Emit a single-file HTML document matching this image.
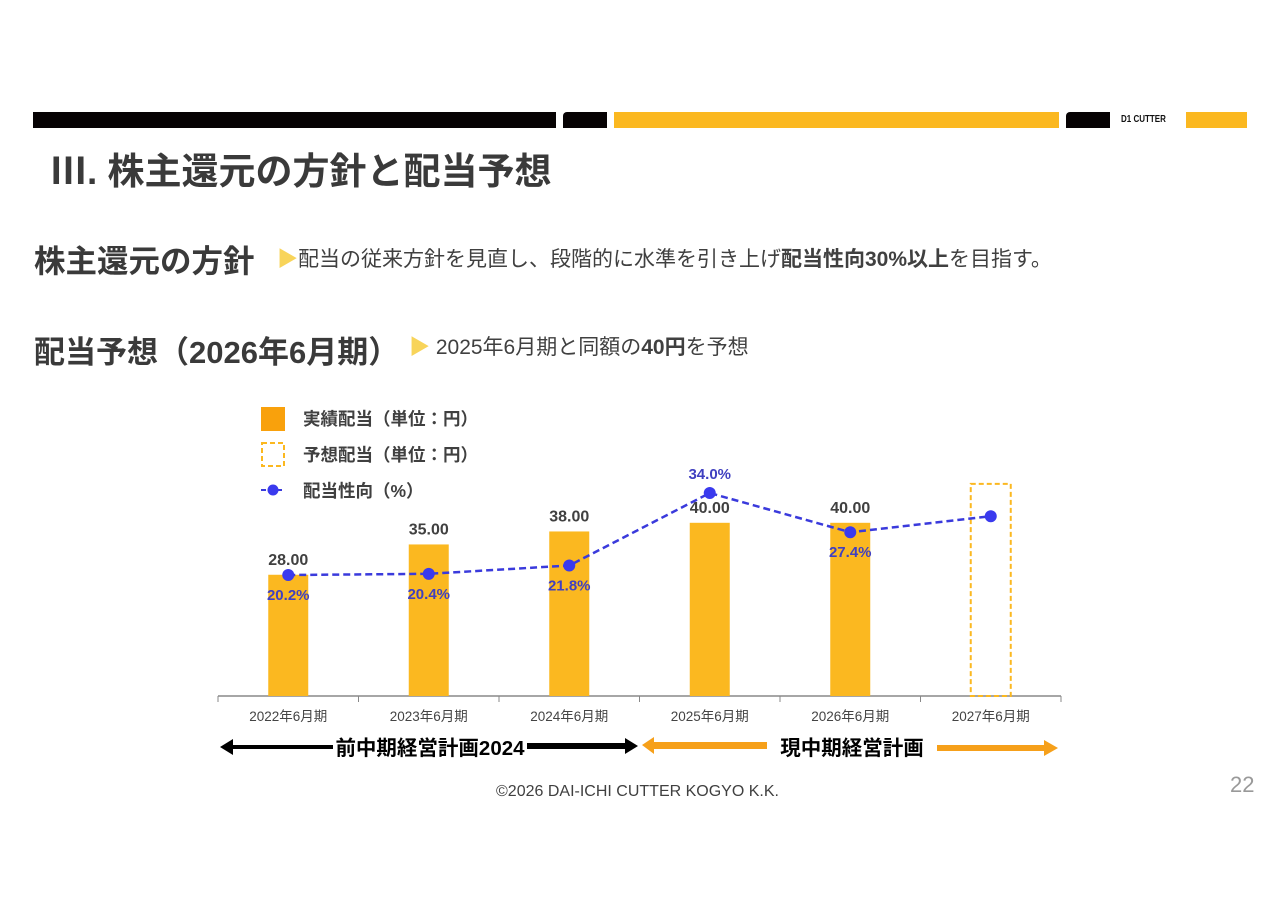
<!DOCTYPE html>
<html><head><meta charset="utf-8">
<style>
body{margin:0;width:1280px;height:905px;background:#fff;position:relative;overflow:hidden;font-family:"Liberation Sans","Noto Sans CJK JP",sans-serif;color:#404040}
.abs{position:absolute;white-space:nowrap}
.bar{position:absolute;height:16px;top:112px}
</style></head><body>
<div class="bar" style="left:33px;width:523px;background:#070304"></div>
<div class="bar" style="left:563px;width:44px;background:#070304;border-radius:4px 0 0 0"></div>
<div class="bar" style="left:614px;width:445px;background:#fbb820"></div>
<div class="bar" style="left:1066px;width:44px;background:#070304;border-radius:4px 0 0 0"></div>
<div class="abs" style="left:1121px;top:114px;font-size:10px;font-weight:bold;color:#111;transform:scaleX(0.8);transform-origin:left">D1 CUTTER</div>
<div class="bar" style="left:1186px;width:61px;background:#fbb820"></div>

<div class="abs" style="left:50px;top:141px;font-size:37px;font-weight:bold;color:#3a3a3a">Ⅲ. 株主還元の方針と配当予想</div>

<div class="abs" style="left:34px;top:236px;font-size:31.5px;font-weight:bold;color:#3a3a3a">株主還元の方針</div>
<div class="abs" style="left:277px;top:243px;font-size:21px;color:#404040"><span style="color:#f8d45a">▶</span>配当の従来方針を見直し、段階的に水準を引き上げ<b>配当性向30%以上</b>を目指す。</div>

<div class="abs" style="left:34px;top:327px;font-size:31px;font-weight:bold;color:#3a3a3a">配当予想（2026年6月期）</div>
<div class="abs" style="left:409px;top:331px;font-size:21px;color:#404040"><span style="color:#f8d45a">▶</span> 2025年6月期と同額の<b>40円</b>を予想</div>

<svg class="abs" style="left:0;top:0" width="1280" height="905" id="chart"></svg>

<div class="abs" style="left:0;width:1275px;text-align:center;top:783px;font-size:16px;color:#404040">©2026 DAI-ICHI CUTTER KOGYO K.K.</div>
<div class="abs" style="left:1230px;top:772px;font-size:22px;color:#999">22</div>

<script>
const categories=['2022年6月期','2023年6月期','2024年6月期','2025年6月期','2026年6月期','2027年6月期'];
const dividends=[28,35,38,40,40,null];
const forecastDividend=[null,null,null,null,null,49];
const payoutRatio=[20.2,20.4,21.8,34.0,27.4,30.1];
const payoutLabels=['20.2%','20.4%','21.8%','34.0%','27.4%',''];
const ns='http://www.w3.org/2000/svg';
const svg=document.getElementById('chart');
const x0=218,x1=1061,base=696;
const bw=(x1-x0)/categories.length;
const xc=i=>x0+bw*(i+0.5);
const yD=v=>base-4.33*v;
const yP=v=>695-5.94*v;
function mk(t,a){const e=document.createElementNS(ns,t);for(const k in a)e.setAttribute(k,a[k]);svg.appendChild(e);return e;}
function txt(x,y,s,a){const e=mk('text',Object.assign({x:x,y:y,'text-anchor':'middle','font-family':'Liberation Sans, Noto Sans CJK JP, sans-serif'},a));e.textContent=s;return e;}
let ax=mk('line',{x1:x0,x2:x1,y1:base,y2:base,stroke:'#888','stroke-width':1.5});


for(let i=0;i<=categories.length;i++){let t=mk('line',{x1:x0+bw*i,x2:x0+bw*i,y1:base,y2:base+6,stroke:'#888'});

}
categories.forEach((c,i)=>{let t=txt(xc(i),721,c,{'font-size':13.5,fill:'#444'});

});
dividends.forEach((v,i)=>{if(v==null)return;
let r=mk('rect',{x:xc(i)-20,y:yD(v),width:40,height:base-yD(v),fill:'#fbb820'});


let t=txt(xc(i),yD(v)-10,v.toFixed(2),{'font-size':16,'font-weight':'bold',fill:'#404040'});

});
forecastDividend.forEach((v,i)=>{if(v==null)return;
let r=mk('rect',{x:xc(i)-20,y:yD(v),width:40,height:base-yD(v),fill:'none',stroke:'#fbb820','stroke-width':2,'stroke-dasharray':'5,3'});

});
let pts=payoutRatio.map((v,i)=>xc(i)+','+yP(v)).join(' ');
let pl=mk('polyline',{points:pts,fill:'none',stroke:'#3a3adc','stroke-width':2.5,'stroke-dasharray':'7,4'});


payoutRatio.forEach((v,i)=>{let c=mk('circle',{cx:xc(i),cy:yP(v),r:6,fill:'#3a3aee'});


if(payoutLabels[i]){let up=v===Math.max(...payoutRatio);
let t=txt(xc(i),up?yP(v)-14:yP(v)+25,payoutLabels[i],{'font-size':15,'font-weight':'bold',fill:'#4040c0'});

}});
let l1=mk('rect',{x:261,y:407,width:24,height:24,fill:'#f9a10c'});


let lt1=txt(303,425,'実績配当（単位：円）',{'text-anchor':'start','font-size':17.5,'font-weight':'bold',fill:'#404040'});


let l2=mk('rect',{x:262,y:443,width:22,height:23,fill:'none',stroke:'#fbb820','stroke-width':2,'stroke-dasharray':'5,3'});


let lt2=txt(303,461,'予想配当（単位：円）',{'text-anchor':'start','font-size':17.5,'font-weight':'bold',fill:'#404040'});


let l3=mk('line',{x1:261,x2:285,y1:490,y2:490,stroke:'#3a3adc','stroke-width':2,'stroke-dasharray':'5,3'});


let l3c=mk('circle',{cx:273,cy:490,r:5.5,fill:'#3a3aee'});


let lt3=txt(303,497,'配当性向（%）',{'text-anchor':'start','font-size':17.5,'font-weight':'bold',fill:'#404040'});


let a1=mk('path',{d:'M220,747 L233,739 L233,745 L333,745 L333,749 L233,749 L233,755 Z',fill:'#000'});


let a2=mk('path',{d:'M527,743 L625,743 L625,738 L638,746 L625,754 L625,749 L527,749 Z',fill:'#000'});


let pt=txt(430,755,'前中期経営計画2024',{'font-size':20.5,'font-weight':'bold',fill:'#000'});


let a3=mk('path',{d:'M642,745 L654,737 L654,742 L767,742 L767,749 L654,749 L654,754 Z',fill:'#f6a01a'});


let a4=mk('path',{d:'M937,745 L1044,745 L1044,740 L1058,748 L1044,756 L1044,751 L937,751 Z',fill:'#f6a01a'});


let ct=txt(852,755,'現中期経営計画',{'font-size':20.5,'font-weight':'bold',fill:'#000'});


</script>
</body></html>
